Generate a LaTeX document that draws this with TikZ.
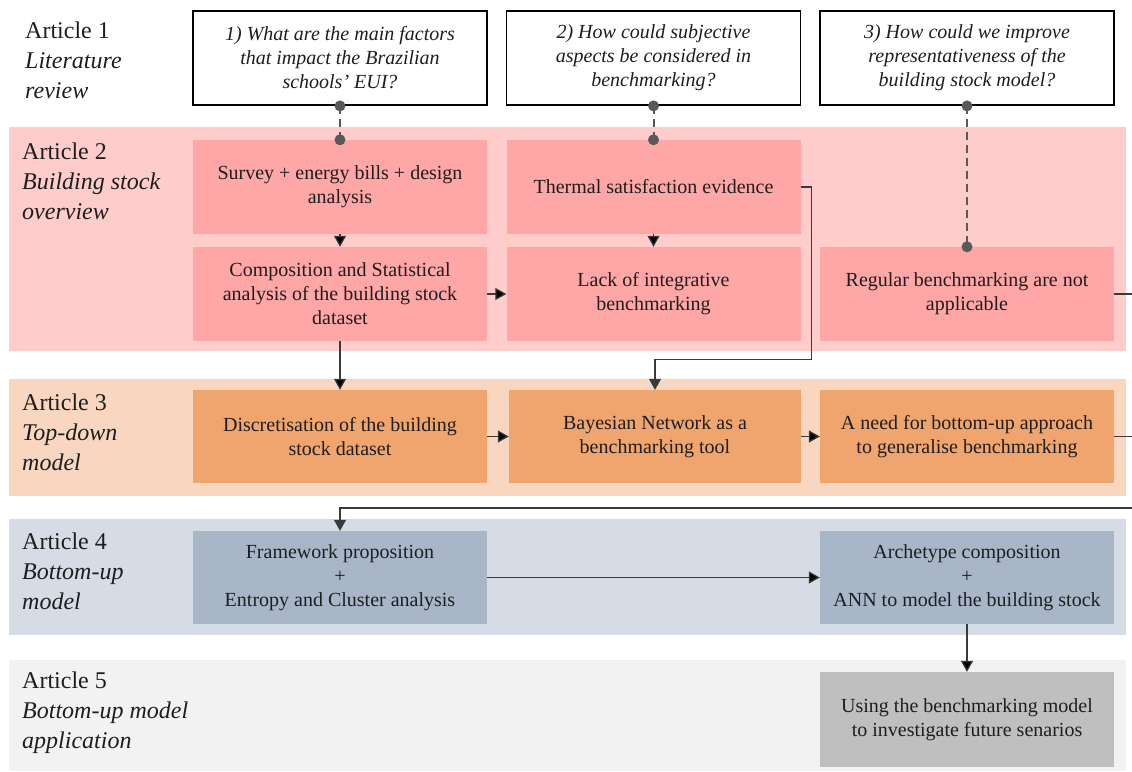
\documentclass[tikz,border=0pt]{standalone}
\usepackage{fontspec}
\setmainfont{Liberation Serif}
\usepackage{tikz}
\usetikzlibrary{calc,positioning}
\usetikzlibrary{arrows.meta}
\tikzset{>={Triangle[width=12pt,length=11pt]}}

\definecolor{txtc}{HTML}{1E1E1E}
\definecolor{dotc}{HTML}{595959}
\definecolor{linec}{HTML}{3A3A3A}
\definecolor{bandA}{HTML}{FFCCCC}
\definecolor{boxA}{HTML}{FFA6A6}
\definecolor{bandB}{HTML}{F8D6C0}
\definecolor{boxB}{HTML}{F1A56E}
\definecolor{bandC}{HTML}{D6DCE5}
\definecolor{boxC}{HTML}{A9B6C8}
\definecolor{bandD}{HTML}{F2F2F2}
\definecolor{boxD}{HTML}{BFBFBF}

\begin{document}
\begin{tikzpicture}[x=1pt,y=-1pt]
        \tikzstyle{band} = [rectangle, inner sep = 0pt, minimum width = 1117pt]
        \tikzstyle{lnode} = [anchor = north west, inner sep = 0pt, align = left, text = txtc,
          font = \fontsize{24}{30}\selectfont]
        \tikzstyle{qnode} = [draw = black, line width = 1.8pt, fill = white, rectangle, inner sep = 0pt,
          minimum width = 294pt, minimum height = 94pt, align = center, text = txtc,
          font = \fontsize{20}{24}\selectfont\itshape]
        \tikzstyle{bnode} = [rectangle, inner sep = 0pt, minimum width = 294pt, minimum height = 94pt,
          align = center, text = txtc, font = \fontsize{20}{24}\selectfont]
        \tikzstyle{arr} = [-{Triangle[width=12pt,length=11pt]}, draw = linec, line width = 1.2pt]
        \tikzstyle{dashline} = [draw = dotc, line width = 2pt, dash pattern = on 8pt off 5pt]

        \useasboundingbox (0,0) rectangle (1132,771);

        % bands
        \node[band, fill = bandA, minimum height = 224pt] (bandA) at (567.5,239) {};
        \node[band, fill = bandB, minimum height = 117pt] (bandB) at (567.5,437.5) {};
        \node[band, fill = bandC, minimum height = 116pt] (bandC) at (567.5,577) {};
        \node[band, fill = bandD, minimum height = 111pt] (bandD) at (567.5,715.5) {};

        % left labels
        \node[lnode] (art1) at (25,22) {Article 1\\\textit{Literature}\\\textit{review}};
        \node[lnode] (art2) at (22,143) {Article 2\\\textit{Building stock}\\\textit{overview}};
        \node[lnode] (art3) at (22,394) {Article 3\\\textit{Top-down}\\\textit{model}};
        \node[lnode] (art4) at (22,533) {Article 4\\\textit{Bottom-up}\\\textit{model}};
        \node[lnode] (art5) at (22,672) {Article 5\\\textit{Bottom-up model}\\\textit{application}};

        % questions
        \node[qnode] (q1) at (340,58) {1) What are the main factors\\that impact the Brazilian\\schools’ EUI?};
        \node[qnode] (q2) at (653.5,58) {2) How could subjective\\aspects be considered in\\benchmarking?};
        \node[qnode] (q3) at (967,58) {3) How could we improve\\representativeness of the\\building stock model?};

        % article 2
        \node[bnode, fill = boxA] (s1) at (340,187) {Survey + energy bills + design\\analysis};
        \node[bnode, fill = boxA] (t1) at (653.5,187) {Thermal satisfaction evidence};
        \node[bnode, fill = boxA] (c1) at (340,294) {Composition and Statistical\\analysis of the building stock\\dataset};
        \node[bnode, fill = boxA] (l1) at (653.5,294) {Lack of integrative\\benchmarking};
        \node[bnode, fill = boxA] (r1) at (967,294) {Regular benchmarking are not\\applicable};

        % article 3
        \node[bnode, fill = boxB, minimum height = 93pt] (d1) at (340,436.5) {Discretisation of the building\\stock dataset};
        \node[bnode, fill = boxB, minimum height = 93pt, minimum width = 292pt] (b1) at (655,436.5) {Bayesian Network as a\\benchmarking tool};
        \node[bnode, fill = boxB, minimum height = 93pt] (n1) at (967,436.5) {A need for bottom-up approach\\to generalise benchmarking};

        % article 4
        \node[bnode, fill = boxC, minimum height = 93pt] (f1) at (340,577.5) {Framework proposition\\+\\Entropy and Cluster analysis};
        \node[bnode, fill = boxC, minimum height = 93pt] (a1) at (967,577.5) {Archetype composition\\+\\ANN to model the building stock};

        % article 5
        \node[bnode, fill = boxD, minimum height = 95pt] (u1) at (967,719.5) {Using the benchmarking model\\to investigate future senarios};

        % free ends at the right edge
        \coordinate (e1) at (1132,294);
        \coordinate (e2) at (1132,436.5);
        \coordinate (e3) at (1132,508);

        % questions to findings
        \path[dashline] (q1.south) -- (s1.north);
        \path[dashline] (q2.south) -- (t1.north);
        \path[dashline] (q3.south) -- (r1.north);
        \foreach \n in {q1.south, s1.north, q2.south, t1.north, q3.south, r1.north}
          \fill[dotc] (\n) circle (5.5pt);

        \path[arr]
        (s1) edge (c1)
        (t1) edge (l1)
        (c1) edge (l1)
        (c1) edge (d1)
        (d1) edge (b1)
        (b1) edge (n1)
        (f1) edge (a1)
        (a1) edge (u1)
        ;
        \draw[arr] (t1.east) -- ++(11,0) |- ($(b1.north)+(0,-30)$) -- (b1.north);
        \draw[draw = linec, line width = 1.2pt] (r1.east) -- (e1);
        \draw[draw = linec, line width = 1.2pt] (n1.east) -- (e2);
        \draw[arr] (e3) -| (f1.north);
\end{tikzpicture}
\end{document}
